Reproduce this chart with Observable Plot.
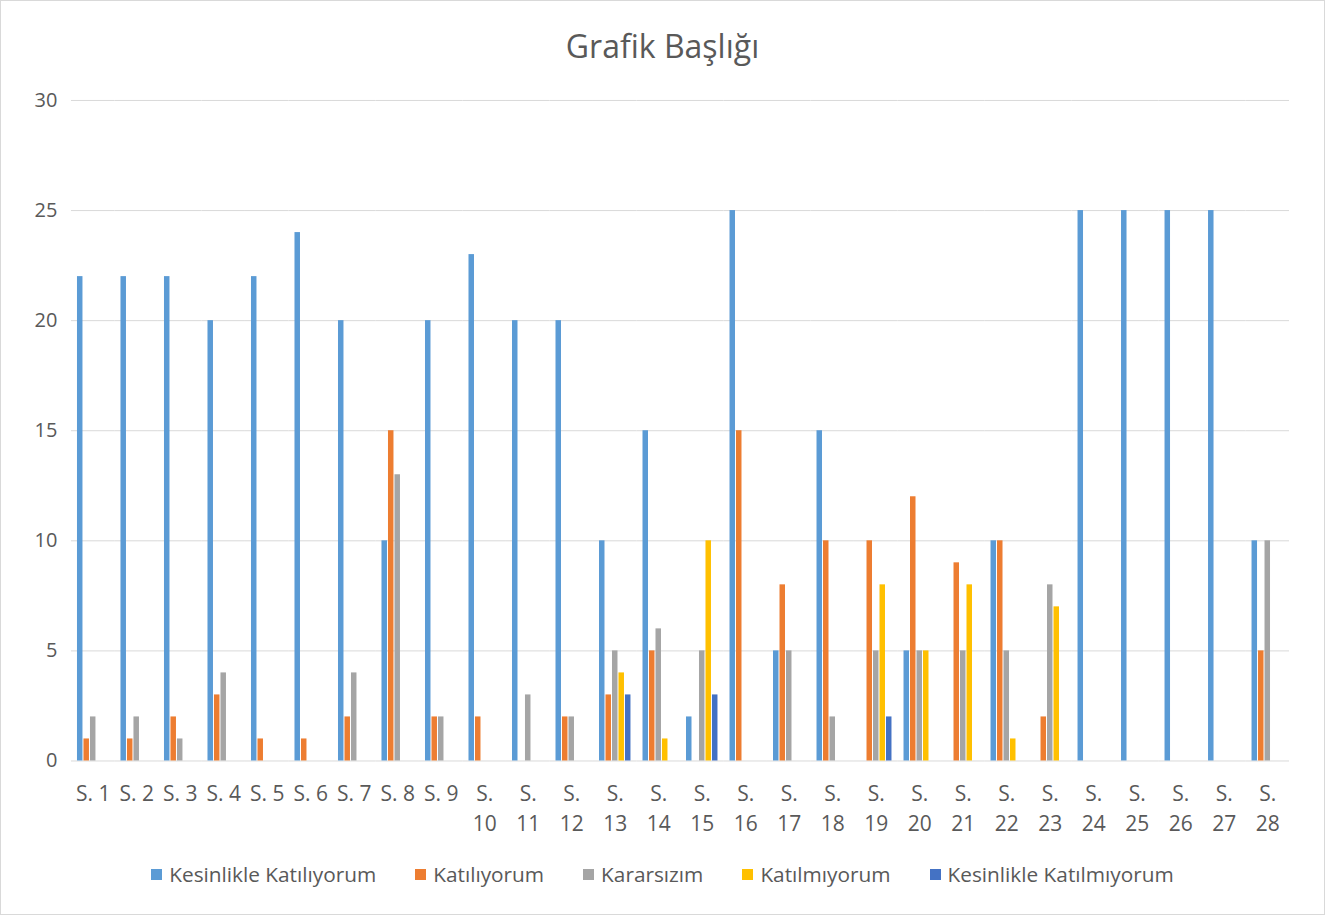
<!DOCTYPE html>
<html>
<head>
<meta charset="utf-8">
<script src="https://cdn.jsdelivr.net/npm/d3@7"></script>
<script src="https://cdn.jsdelivr.net/npm/@observablehq/plot@0.6"></script>
<style>
  html, body { margin: 0; padding: 0; background: #fff; }
  #frame { position: relative; width: 1323px; height: 913px; border: 1px solid #d9d9d9; background: #fff; font-family: "Open Sans", sans-serif; color: #595959; overflow: hidden; }
  #title { position: absolute; top: 23px; left: 0; width: 100%; text-align: center; font-size: 32px; line-height: 44px; }
  #chart { position: absolute; top: 79px; left: -1px; }
  #legend { position: absolute; top: 858px; left: 0; width: 100%; display: flex; justify-content: center; gap: 39px; font-size: 20.8px; line-height: 30px; }
  #legend .item { display: flex; align-items: center; gap: 7px; }
  #legend .sw { width: 11px; height: 11px; display: inline-block; }
</style>
</head>
<body>
<div id="frame">
  <div id="title">Grafik Başlığı</div>
  <div id="chart"></div>
  <div id="legend"></div>
</div>
<script>
const questions = Array.from({length: 28}, (_, i) => "S. " + (i + 1));
const series = ["Kesinlikle Katılıyorum", "Katılıyorum", "Kararsızım", "Katılmıyorum", "Kesinlikle Katılmıyorum"];
const colors = ["#5b9bd5", "#ed7d31", "#a5a5a5", "#ffc000", "#4472c4"];

const kesinlikleKatiliyorum = [22,22,22,20,22,24,20,10,20,23,20,20,10,15,2,25,5,15,0,5,0,10,0,25,25,25,25,10];
const katiliyorum           = [1,1,2,3,1,1,2,15,2,2,0,2,3,5,0,15,8,10,10,12,9,10,2,0,0,0,0,5];
const kararsizim            = [2,2,1,4,0,0,4,13,2,0,3,2,5,6,5,0,5,2,5,5,5,5,8,0,0,0,0,10];
const katilmiyorum          = [0,0,0,0,0,0,0,0,0,0,0,0,4,1,10,0,0,0,8,5,8,1,7,0,0,0,0,0];
const kesinlikleKatilmiyorum= [0,0,0,0,0,0,0,0,0,0,0,0,3,0,3,0,0,0,2,0,0,0,0,0,0,0,0,0];
const yTicks = [0, 5, 10, 15, 20, 25, 30];

const seriesValues = [kesinlikleKatiliyorum, katiliyorum, kararsizim, katilmiyorum, kesinlikleKatilmiyorum];
const data = [];
questions.forEach((q, i) => {
  series.forEach((s, j) => {
    data.push({q, series: s, value: seriesValues[j][i]});
  });
});
const bars = data.filter(d => d.value > 0);

const chart = Plot.plot({
  width: 1325,
  height: 770,
  marginTop: 20,
  marginLeft: 71,
  marginRight: 35,
  marginBottom: 89,
  style: {fontFamily: "'Open Sans', sans-serif", fontSize: "20px", color: "#595959", background: "transparent"},
  fx: {domain: questions, paddingInner: 0, paddingOuter: 0, round: false, label: null},
  x: {domain: series, paddingInner: 0, paddingOuter: 0.85, round: false, axis: null},
  y: {domain: [0, 30], label: null},
  color: {domain: series, range: colors},
  marks: [
    Plot.gridY(yTicks, {stroke: "#d9d9d9", strokeOpacity: 1, strokeWidth: 1}),
    Plot.axisY(yTicks, {tickSize: 0, tickPadding: 14, label: null, fontSize: 20}),
    Plot.axisFx({
      anchor: "bottom",
      tickSize: 0,
      tickPadding: 19,
      label: null,
      lineHeight: 1.42,
      fontSize: 21,
      tickFormat: d => {
        const n = +d.slice(3);
        return n < 10 ? d : "S.\n" + n;
      }
    }),
    Plot.barY(bars, {fx: "q", x: "series", y: "value", fill: "series", insetLeft: 0.5, insetRight: 0.5})
  ]
});
document.getElementById("chart").appendChild(chart);

const legend = document.getElementById("legend");
series.forEach((s, j) => {
  const item = document.createElement("div");
  item.className = "item";
  const sw = document.createElement("span");
  sw.className = "sw";
  sw.style.background = colors[j];
  const t = document.createElement("span");
  t.textContent = s;
  item.appendChild(sw);
  item.appendChild(t);
  legend.appendChild(item);
});
</script>
</body>
</html>
